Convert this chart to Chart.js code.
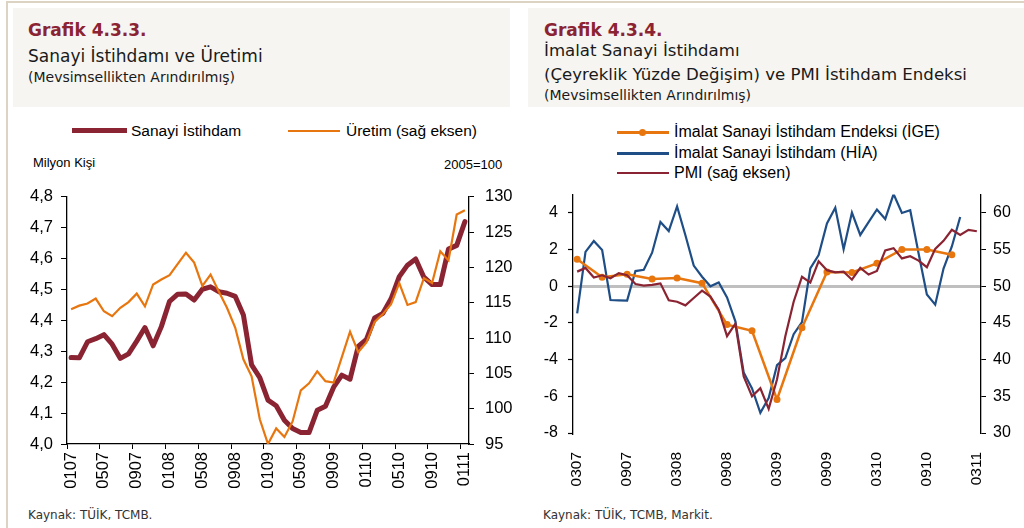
<!DOCTYPE html>
<html lang="tr">
<head>
<meta charset="utf-8">
<title>Grafik 4.3.3 - 4.3.4</title>
<script src="https://cdn.jsdelivr.net/npm/chart.js@4.4.1/dist/chart.umd.min.js"></script>
<style>
  html, body { margin: 0; padding: 0; }
  body { width: 1024px; height: 528px; position: relative; overflow: hidden; background: #fff;
         font-family: "DejaVu Sans", sans-serif; color: #1a1a1a; }
  .cizgi-ust { position: absolute; left: 6px; top: 1px; width: 1018px; height: 2px; background: #dcd3c2; }
  .cizgi-sol { position: absolute; left: 6px; top: 1px; width: 2px; height: 527px; background: #dcd3c2; }
  .baslik-kutu { position: absolute; top: 8px; height: 99px; background: #f6f5f1; }
  .yazi { position: absolute; white-space: nowrap; line-height: 20px; }
  .grafik-no { font-weight: bold; font-size: 17px; color: #8b2332; }
  .t1 { font-size: 17px; }
  .t1b { font-size: 16.6px; }
  .t2 { font-size: 14px; }
  .kaynak { font-size: 12px; color: #333; }
  .grafik { position: absolute; }
  .lejant { position: absolute; white-space: nowrap; font-family: "Liberation Sans", Arial, sans-serif;
            line-height: 18px; color: #000; }
  .orn { position: absolute; }
  .nokta { position: absolute; width: 7px; height: 7px; border-radius: 50%; }
</style>
</head>
<body>
<div class="cizgi-ust"></div>
<div class="cizgi-sol"></div>

<!-- Grafik 4.3.3 başlık -->
<div class="baslik-kutu" style="left:13px; width:497px;"></div>
<div class="yazi grafik-no" style="left:28px; top:20px;">Grafik 4.3.3.</div>
<div class="yazi t1" style="left:28px; top:46px;">Sanayi İstihdamı ve Üretimi</div>
<div class="yazi t2" style="left:28px; top:67px;">(Mevsimsellikten Arındırılmış)</div>

<!-- Grafik 4.3.4 başlık -->
<div class="baslik-kutu" style="left:528px; width:496px;"></div>
<div class="yazi grafik-no" style="left:544px; top:20px;">Grafik 4.3.4.</div>
<div class="yazi t1b" style="left:544px; top:41px;">İmalat Sanayi İstihdamı</div>
<div class="yazi t1b" style="left:544px; top:65px;">(Çeyreklik Yüzde Değişim) ve PMI İstihdam Endeksi</div>
<div class="yazi t2" style="left:544px; top:85px;">(Mevsimsellikten Arındırılmış)</div>

<!-- lejant 1 -->
<div class="orn" style="left:72px; top:128px; width:55px; height:5px; background:#8a2432;"></div>
<div class="lejant" style="left:131px; top:122px; font-size:15.5px;">Sanayi İstihdam</div>
<div class="orn" style="left:288px; top:129.5px; width:52px; height:2.5px; background:#e8760f;"></div>
<div class="lejant" style="left:346px; top:122px; font-size:15.5px;">Üretim (sağ eksen)</div>
<div class="lejant" style="left:33px; top:154px; font-size:13px;">Milyon Kişi</div>
<div class="lejant" style="left:444px; top:156px; font-size:13px;">2005=100</div>

<!-- lejant 2 -->
<div class="orn" style="left:617px; top:131px; width:52px; height:2.5px; background:#e8760f;"></div>
<div class="nokta" style="left:639px; top:129px; background:#e8760f;"></div>
<div class="lejant" style="left:674px; top:123px; font-size:16px;">İmalat Sanayi İstihdam Endeksi (İGE)</div>
<div class="orn" style="left:617px; top:152px; width:52px; height:2.5px; background:#1f4e86;"></div>
<div class="lejant" style="left:674px; top:144px; font-size:16px;">İmalat Sanayi İstihdam (HİA)</div>
<div class="orn" style="left:617px; top:171.5px; width:52px; height:2.5px; background:#8a2432;"></div>
<div class="lejant" style="left:674px; top:164px; font-size:16px;">PMI (sağ eksen)</div>

<div class="grafik" style="left:17px; top:176px;"><canvas id="grafik1" width="500" height="320"></canvas></div>
<div class="grafik" style="left:523px; top:175px;"><canvas id="grafik2" width="501" height="320"></canvas></div>

<div class="yazi kaynak" style="left:28px; top:505px;">Kaynak: TÜİK, TCMB.</div>
<div class="yazi kaynak" style="left:543px; top:505px;">Kaynak: TÜİK, TCMB, Markit.</div>

<script>
// Grafik 4.3.3 - aylık veriler (0107 - 0111)
const aylar1 = ['0107','0207','0307','0407','0507','0607','0707','0807','0907','1007','1107','1207',
                '0108','0208','0308','0408','0508','0608','0708','0808','0908','1008','1108','1208',
                '0109','0209','0309','0409','0509','0609','0709','0809','0909','1009','1109','1209',
                '0110','0210','0310','0410','0510','0610','0710','0810','0910','1010','1110','1210',
                '0111'];
// Sanayi istihdamı (milyon kişi)
const istihdam = [4.28, 4.279, 4.331, 4.341, 4.354, 4.323, 4.277, 4.292, 4.333, 4.377, 4.318, 4.38,
                  4.462, 4.485, 4.486, 4.466, 4.501, 4.509, 4.493, 4.488, 4.478, 4.418, 4.256, 4.215,
                  4.142, 4.124, 4.077, 4.05, 4.037, 4.037, 4.109, 4.122, 4.184, 4.223, 4.21, 4.316,
                  4.339, 4.408, 4.423, 4.47, 4.542, 4.579, 4.599, 4.54, 4.516, 4.516, 4.631, 4.643,
                  4.72];
// Sanayi üretimi (2005=100, sağ eksen)
const uretim = [114.1, 114.6, 114.9, 115.6, 113.8, 113.1, 114.3, 115.1, 116.3, 114.5, 117.6, 118.3,
                118.9, 120.5, 122.1, 120.7, 117.4, 119.0, 116.6, 114.3, 111.5, 107.0, 104.6, 98.5,
                95.0, 97.2, 96.0, 98.2, 102.6, 103.6, 105.3, 103.9, 103.7, 107.3, 110.9, 108.0,
                109.4, 112.3, 113.4, 114.8, 117.8, 114.7, 115.1, 118.5, 117.8, 122.3, 121.0, 127.5,
                128.1];

// Grafik 4.3.4 - aylık veriler (0307 - 0311)
const aylar2 = ['0307','0407','0507','0607','0707','0807','0907','1007','1107','1207',
                '0108','0208','0308','0408','0508','0608','0708','0808','0908','1008','1108','1208',
                '0109','0209','0309','0409','0509','0609','0709','0809','0909','1009','1109','1209',
                '0110','0210','0310','0410','0510','0610','0710','0810','0910','1010','1110','1210',
                '0111','0211','0311'];
// İGE (çeyreklik, %)
const ige = [1.48, null, null, 0.49, null, null, 0.65, null, null, 0.4, null, null,
             0.45, null, null, 0.17, null, null, -2.09, null, null, -2.43, null, null,
             -6.17, null, null, -2.26, null, null, 0.78, null, null, 0.75, null, null,
             1.25, null, null, 2.01, null, null, 2.0, null, null, 1.72, null, null, null];
// HİA (çeyreklik yüzde değişim)
const hia = [-1.48, 1.88, 2.47, 1.98, -0.75, -0.77, -0.78, 0.83, 0.9, 1.83, 3.51, 3.01,
             4.35, 2.78, 1.13, 0.52, 0.0, 0.21, -0.61, -1.91, -4.7, -5.57, -6.9, -6.09,
             -4.3, -3.91, -2.61, -1.95, 0.97, 1.7, 3.43, 4.28, 2.02, 4.02, 2.8, 3.5,
             4.19, 3.67, 5.03, 4.0, 4.15, 1.8, -0.45, -1.0, 0.97, 2.17, 3.78, null, null];
// PMI istihdam endeksi (sağ eksen)
const pmi = [52.0, 52.5, 51.2, 51.5, 51.1, 51.8, 51.5, 50.3, 50.1, 50.2, 50.4, 48.1,
             47.9, 47.4, 48.4, 49.4, 48.6, 46.8, 43.2, 44.9, 37.7, 35.0, 36.1, 33.3,
             37.3, 43.2, 47.9, 51.3, 50.5, 53.4, 52.2, 51.9, 52.0, 50.9, 52.5, 51.6,
             52.1, 54.9, 55.2, 53.8, 54.1, 53.5, 52.6, 55.1, 56.2, 57.7, 57.0, 57.7,
             57.5];

const KOYU_KIRMIZI = '#8a2432';
const TURUNCU = '#e8760f';
const LACIVERT = '#1f4e86';

Chart.defaults.font.family = "'Liberation Sans', Arial, sans-serif";
Chart.defaults.font.size = 16;
Chart.defaults.color = '#000';
Chart.defaults.animation = false;

const seffaf = 'rgba(0,0,0,0)';

// Grafik 4.3.3
new Chart(document.getElementById('grafik1'), {
    type: 'line',
    data: {
        labels: aylar1,
        datasets: [{
            label: 'Üretim (sağ eksen)',
            data: uretim,
            yAxisID: 'y1',
            borderColor: TURUNCU,
            borderWidth: 2.2,
            pointRadius: 0,
            order: 0
        }, {
            label: 'Sanayi İstihdam',
            data: istihdam,
            yAxisID: 'y',
            borderColor: KOYU_KIRMIZI,
            borderWidth: 5,
            borderJoinStyle: 'round',
            borderCapStyle: 'round',
            pointRadius: 0,
            order: 1
        }]
    },
    options: {
        responsive: false,
        layout: { padding: { top: 10, left: 0, right: 0, bottom: 0 } },
        plugins: { legend: { display: false }, tooltip: { enabled: false } },
        scales: {
            x: {
                offset: true,
                grid: {
                    offset: true,
                    drawOnChartArea: false,
                    tickLength: 5,
                    tickColor: ctx => (ctx.index % 4 === 0 ? '#000' : seffaf)
                },
                border: { color: '#000', width: 1.3 },
                ticks: {
                    autoSkip: false,
                    minRotation: 90,
                    maxRotation: 90,
                    padding: 3,
                    font: { size: 16.5 },
                    callback: (v, i) => (i % 4 === 0 ? aylar1[i] : '')
                },
                afterFit: s => { s.height = 52; }
            },
            y: {
                position: 'left',
                min: 4.0,
                max: 4.8,
                ticks: { stepSize: 0.1, padding: 8, font: { size: 16.5 },
                         callback: v => v.toFixed(1).replace('.', ',') },
                grid: { drawOnChartArea: false, tickLength: 6, tickColor: '#000' },
                border: { color: '#000', width: 1.3 },
                afterFit: s => { s.width = 50; }
            },
            y1: {
                position: 'right',
                min: 95,
                max: 130,
                ticks: { stepSize: 5, padding: 11, font: { size: 16.5 } },
                grid: { drawOnChartArea: false, tickLength: 5, tickColor: '#000' },
                border: { color: '#000', width: 1.3 },
                afterFit: s => { s.width = 48; }
            }
        }
    }
});

// Grafik 4.3.4
new Chart(document.getElementById('grafik2'), {
    type: 'line',
    data: {
        labels: aylar2,
        datasets: [{
            label: 'PMI (sağ eksen)',
            data: pmi,
            yAxisID: 'y1',
            borderColor: KOYU_KIRMIZI,
            borderWidth: 2.2,
            pointRadius: 0,
            order: 0
        }, {
            label: 'İmalat Sanayi İstihdam Endeksi (İGE)',
            data: ige,
            yAxisID: 'y',
            borderColor: TURUNCU,
            backgroundColor: TURUNCU,
            borderWidth: 2.5,
            pointRadius: 3.5,
            pointBorderWidth: 0,
            spanGaps: true,
            order: 1
        }, {
            label: 'İmalat Sanayi İstihdam (HİA)',
            data: hia,
            yAxisID: 'y',
            borderColor: LACIVERT,
            borderWidth: 2.2,
            pointRadius: 0,
            order: 2
        }]
    },
    options: {
        responsive: false,
        layout: { padding: { top: 10, left: 0, right: 0, bottom: 0 } },
        plugins: { legend: { display: false }, tooltip: { enabled: false } },
        scales: {
            x: {
                offset: true,
                grid: { display: false },
                border: { display: false },
                ticks: {
                    autoSkip: false,
                    minRotation: 90,
                    maxRotation: 90,
                    padding: 11,
                    font: { size: 15.5 },
                    callback: (v, i) => (i % 6 === 0 ? aylar2[i] : '')
                },
                afterFit: s => { s.height = 62; }
            },
            y: {
                position: 'left',
                min: -8,
                max: 5,
                ticks: { stepSize: 2, includeBounds: false, padding: 10 },
                grid: {
                    drawOnChartArea: true,
                    color: ctx => (ctx.tick && ctx.tick.value === 0 ? '#bfbfbf' : seffaf),
                    lineWidth: 3,
                    tickLength: 5,
                    tickColor: '#000',
                    tickWidth: 1.2
                },
                border: { color: '#000', width: 1.3 },
                afterFit: s => { s.width = 50; }
            },
            y1: {
                position: 'right',
                min: 30,
                max: 62.5,
                ticks: { stepSize: 5, includeBounds: false, padding: 7 },
                grid: { drawOnChartArea: false, tickLength: 5, tickColor: '#000' },
                border: { color: '#000', width: 1.3 },
                afterFit: s => { s.width = 43; }
            }
        }
    }
});
</script>
</body>
</html>
